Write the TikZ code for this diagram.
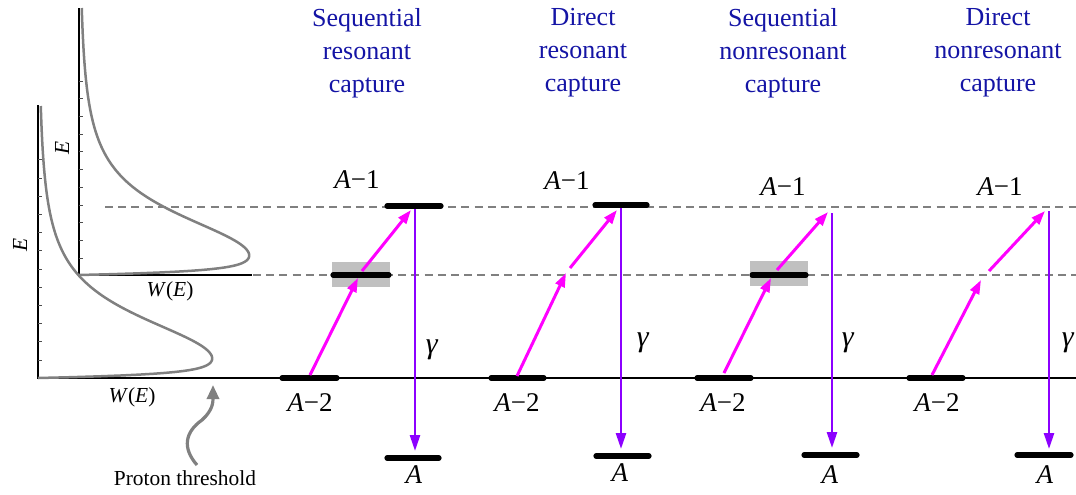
\documentclass[tikz,border=0pt]{standalone}
\usepackage{fontspec}
\setmainfont{Liberation Serif}
\newfontfamily\figserif{Liberation Serif}
\usetikzlibrary{arrows.meta}
\definecolor{titleblue}{RGB}{20,20,165}
\definecolor{capmag}{RGB}{255,0,255}
\definecolor{gampurple}{RGB}{140,0,255}
\definecolor{curvegray}{RGB}{128,128,128}
\definecolor{boxgray}{RGB}{192,192,192}

\begin{document}
\begin{tikzpicture}[x=0.5pt, y=-0.5pt,
  ttl/.style={text=titleblue, align=center, font=\figserif\fontsize{13}{16.5}\selectfont},
  lbl/.style={font=\figserif\fontsize{13.5}{16}\selectfont, inner sep=0pt},
  gamlbl/.style={font=\figserif\fontsize{15}{16}\selectfont, inner sep=0pt},
  axlbl/.style={font=\figserif\fontsize{10.7}{13}\selectfont, inner sep=0pt},
  lvl/.style={line width=2.6pt, line cap=round},
  thrline/.style={dash pattern=on 4pt off 2.6pt, line width=1pt, curvegray},
  reso/.style={fill=boxgray, draw=none, minimum width=29pt, minimum height=12.5pt, inner sep=0pt},
  captarrow/.style={-{Triangle[length=7pt, width=4.8pt]}, line width=1.5pt, capmag},
  gam/.style={-{Triangle[length=8pt, width=5pt]}, line width=1.3pt, gampurple},
  dist/.style={curvegray, line width=1.25pt},
  axline/.style={line width=0.7pt},
  tickmark/.style={line width=0.4pt, black!70}
]
  \useasboundingbox (0,0) rectangle (1076,494);

  \draw[axline] (38,105) -- (38,378) -- (1076,378);
  \draw[axline] (79,8) -- (79,275) -- (252,275);
  \foreach \k in {0,...,11} \draw[tickmark] (38,{360-18.2*\k}) -- ++(4,0);
  \foreach \k in {0,...,10} \draw[tickmark] (79,{258-17.7*\k}) -- ++(4,0);

  \draw[thrline] (105,207) -- (1076,207);
  \draw[thrline] (253,275) -- (1076,275);

  \draw[dist] plot[domain=0:272, samples=320, variable=\u]
    ({38+175*(1-exp(-min(\u,30)/3.5))/((1+((\u-18)/66)^2)*sqrt(1+((\u-18)/66)^2))}, {378-\u});
  \draw[dist] plot[domain=0:267, samples=320, variable=\u]
    ({79+171*(1-exp(-min(\u,30)/3.5))/((1+((\u-18)/65)^2)*sqrt(1+((\u-18)/65)^2))}, {275-\u});

  \node[axlbl, rotate=90] (eout) at (20,245) {\textit{E}};
  \node[axlbl, rotate=90] (ein) at (62,148) {\textit{E}};
  \node[axlbl] (wout) at (132,397) {\textit{W}(\textit{E})};
  \node[axlbl] (win) at (170,291) {\textit{W}(\textit{E})};

  \node[axlbl] (thrlbl) at (185,478) {Proton threshold};
  \coordinate (thrtip) at (213,385);
  \draw[curvegray, line width=1.6pt, -{Triangle[length=7pt, width=6pt]}] (197,465) .. controls (182,448) and (185,432) .. (202,420) .. controls (213,410) and (213,402) .. (thrtip);

  \node[ttl] (t1) at (367,53) {Sequential\\resonant\\capture};
  \node[ttl] (t2) at (583,53) {Direct\\resonant\\capture};
  \node[ttl] (t3) at (783,53) {Sequential\\nonresonant\\capture};
  \node[ttl] (t4) at (998,53) {Direct\\nonresonant\\capture};

  \node[reso] (res1) at (361,274.5) {};
  \draw[lvl] (333,275) -- (389,275);
  \draw[lvl] (282,378) -- (337,378);
  \draw[lvl] (387,206) -- (441,206);
  \draw[lvl] (387,458) -- (439,458);
  \coordinate (c1a) at (310,375);
  \coordinate (c1b) at (358,278);
  \coordinate (c1c) at (362,271);
  \coordinate (c1d) at (411,210);
  \coordinate (g1top) at (415,209);
  \coordinate (g1bot) at (415,451);
  \draw[captarrow] (c1a) -- (c1b);
  \draw[captarrow] (c1c) -- (c1d);
  \draw[gam] (g1top) -- (g1bot);
  \node[lbl] (am1a) at (357,180) {\textit{A}−1};
  \node[lbl] (am2a) at (310,403) {\textit{A}−2};
  \node[gamlbl] (gama) at (432,350) {\textit{γ}};
  \node[lbl] (aa) at (414,475) {\textit{A}};

  \draw[lvl] (595,205) -- (647,205);
  \draw[lvl] (491,378) -- (544,378);
  \draw[lvl] (596,456) -- (649,456);
  \coordinate (c2a) at (517,376);
  \coordinate (c2b) at (566,273);
  \coordinate (c2c) at (570,268);
  \coordinate (c2d) at (617,210);
  \coordinate (g2top) at (621,208);
  \coordinate (g2bot) at (621,449);
  \draw[captarrow] (c2a) -- (c2b);
  \draw[captarrow] (c2c) -- (c2d);
  \draw[gam] (g2top) -- (g2bot);
  \node[lbl] (am1b) at (567,181) {\textit{A}−1};
  \node[lbl] (am2b) at (517,403) {\textit{A}−2};
  \node[gamlbl] (gamb) at (643,343) {\textit{γ}};
  \node[lbl] (ab) at (620,473) {\textit{A}};

  \node[reso] (res3) at (779,273.5) {};
  \draw[lvl] (752,275) -- (806,275);
  \draw[lvl] (697,378) -- (751,378);
  \draw[lvl] (804,455) -- (857,455);
  \coordinate (c3a) at (724,373);
  \coordinate (c3b) at (771,278);
  \coordinate (c3c) at (777,270);
  \coordinate (c3d) at (828,212);
  \coordinate (g3top) at (832,213);
  \coordinate (g3bot) at (832,448);
  \draw[captarrow] (c3a) -- (c3b);
  \draw[captarrow] (c3c) -- (c3d);
  \draw[gam] (g3top) -- (g3bot);
  \node[lbl] (am1c) at (783,187) {\textit{A}−1};
  \node[lbl] (am2c) at (723,403) {\textit{A}−2};
  \node[gamlbl] (gamc) at (848,343) {\textit{γ}};
  \node[lbl] (ac) at (830,475) {\textit{A}};

  \draw[lvl] (909,378) -- (963,378);
  \draw[lvl] (1017,455) -- (1071,455);
  \coordinate (c4a) at (932,375);
  \coordinate (c4b) at (981,280);
  \coordinate (c4c) at (989,271);
  \coordinate (c4d) at (1045,211);
  \coordinate (g4top) at (1049,211);
  \coordinate (g4bot) at (1049,449);
  \draw[captarrow] (c4a) -- (c4b);
  \draw[captarrow] (c4c) -- (c4d);
  \draw[gam] (g4top) -- (g4bot);
  \node[lbl] (am1d) at (1000,187) {\textit{A}−1};
  \node[lbl] (am2d) at (937,403) {\textit{A}−2};
  \node[gamlbl] (gamd) at (1068,343) {\textit{γ}};
  \node[lbl] (ad) at (1045,475) {\textit{A}};
\end{tikzpicture}
\end{document}
